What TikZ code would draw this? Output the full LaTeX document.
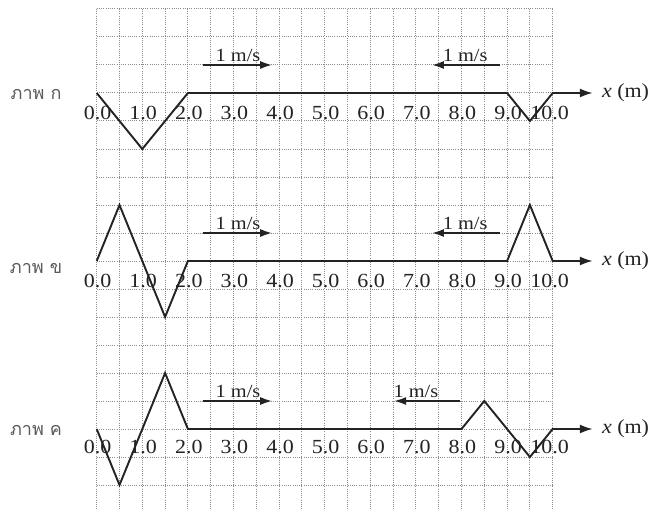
\documentclass[tikz,border=0pt]{standalone}
\usepackage{fontspec}
\setmainfont{Liberation Serif}[FakeStretch=1.1]
\newfontfamily\thaifont[Script=Thai]{Loma}
\usetikzlibrary{arrows.meta}
\definecolor{ink}{RGB}{35,35,35}
\definecolor{gridc}{RGB}{140,140,140}
\definecolor{thaic}{RGB}{90,90,90}
\tikzset{
  gridline/.style={gridc, line width=1pt, dash pattern=on 1pt off 1.2pt},
  wave/.style={ink, line width=1.9pt, line join=miter},
  axisarrow/.style={-{Latex[length=13pt,width=9pt]}},
  velarrow/.style={ink, line width=2.7pt, -{Latex[length=13pt,width=8pt]}},
  ticklab/.style={font=\fontsize{20}{22}\selectfont, text=ink, inner sep=0pt, anchor=base},
  vellab/.style={font=\fontsize{18.5}{20}\selectfont, text=ink, inner sep=0pt, anchor=base},
  panellab/.style={font=\thaifont\fontsize{18}{20}\selectfont, text=thaic, inner sep=0pt},
  axlab/.style={font=\fontsize{20}{22}\selectfont, text=ink, inner sep=0pt, anchor=west},
  panel/.style={x=45.6pt, y=28pt},
}
\begin{document}
\begin{tikzpicture}[x=1pt,y=1pt]
\useasboundingbox (0,0) rectangle (654,-511);
\fill[white] (0,0) rectangle (654,-511);
% grid
\begin{scope}[shift={(96.7pt,-93pt)}, panel]
  \foreach \i in {0,1,...,20} \draw[gridline] (\i/2,3) -- (\i/2,-14.95);
  \foreach \k in {3,2,...,-14} \draw[gridline] (0,\k) -- (10,\k);
\end{scope}
% panel A
\begin{scope}[shift={(96.7pt,-93pt)}, panel]
  \coordinate (A-end) at (10.88,0);
  \draw[wave, axisarrow] (0,0) -- (1,-2) -- (2,0) -- (9,0) -- (9.5,-1) -- (10,0) -- (A-end);
  \node[axlab] (A-x) at ([xshift=9pt]A-end) {\textit{x} (m)};
  \foreach \i in {0,...,9} \node[ticklab] (A-t\i) at (\i+0.02,-0.96) {\i.0};
  \node[ticklab] (A-t10) at (9.93,-0.96) {10.0};
  \coordinate (A-r1) at (2.33,1); \coordinate (A-r2) at (3.87,1);
  \draw[velarrow] (A-r1) -- (A-r2);
  \node[vellab] (A-rl) at (3.1,1.11) {1 m/s};
  \coordinate (A-l1) at (8.85,1); \coordinate (A-l2) at (7.33,1);
  \draw[velarrow] (A-l1) -- (A-l2);
  \node[vellab] (A-ll) at (8.08,1.11) {1 m/s};
  \node[panellab] (A-lab) at (-1.33,-0.04) {ภาพ ก};
\end{scope}
% panel B
\begin{scope}[shift={(96.7pt,-261pt)}, panel]
  \coordinate (B-end) at (10.88,0);
  \draw[wave, axisarrow] (0,0) -- (0.5,2) -- (1.5,-2) -- (2,0) -- (9,0) -- (9.5,2) -- (10,0) -- (B-end);
  \node[axlab] (B-x) at ([xshift=9pt]B-end) {\textit{x} (m)};
  \foreach \i in {0,...,9} \node[ticklab] (B-t\i) at (\i+0.02,-0.96) {\i.0};
  \node[ticklab] (B-t10) at (9.93,-0.96) {10.0};
  \coordinate (B-r1) at (2.33,1); \coordinate (B-r2) at (3.87,1);
  \draw[velarrow] (B-r1) -- (B-r2);
  \node[vellab] (B-rl) at (3.1,1.11) {1 m/s};
  \coordinate (B-l1) at (8.85,1); \coordinate (B-l2) at (7.33,1);
  \draw[velarrow] (B-l1) -- (B-l2);
  \node[vellab] (B-ll) at (8.08,1.11) {1 m/s};
  \node[panellab] (B-lab) at (-1.33,-0.25) {ภาพ ข};
\end{scope}
% panel C
\begin{scope}[shift={(96.7pt,-429pt)}, panel]
  \coordinate (C-end) at (10.88,0);
  \draw[wave, axisarrow] (0,0) -- (0.5,-2) -- (1.5,2) -- (2,0) -- (8,0) -- (8.5,1) -- (9.5,-1) -- (10,0) -- (C-end);
  \node[axlab] (C-x) at ([xshift=9pt]C-end) {\textit{x} (m)};
  \foreach \i in {0,...,9} \node[ticklab] (C-t\i) at (\i+0.02,-0.89) {\i.0};
  \node[ticklab] (C-t10) at (9.93,-0.89) {10.0};
  \coordinate (C-r1) at (2.33,1); \coordinate (C-r2) at (3.87,1);
  \draw[velarrow] (C-r1) -- (C-r2);
  \node[vellab] (C-rl) at (3.1,1.11) {1 m/s};
  \coordinate (C-l1) at (7.97,1); \coordinate (C-l2) at (6.5,1);
  \draw[velarrow] (C-l1) -- (C-l2);
  \node[vellab] (C-ll) at (7.0,1.11) {1 m/s};
  \node[panellab] (C-lab) at (-1.33,-0.07) {ภาพ ค};
\end{scope}
\end{tikzpicture}
\end{document}
